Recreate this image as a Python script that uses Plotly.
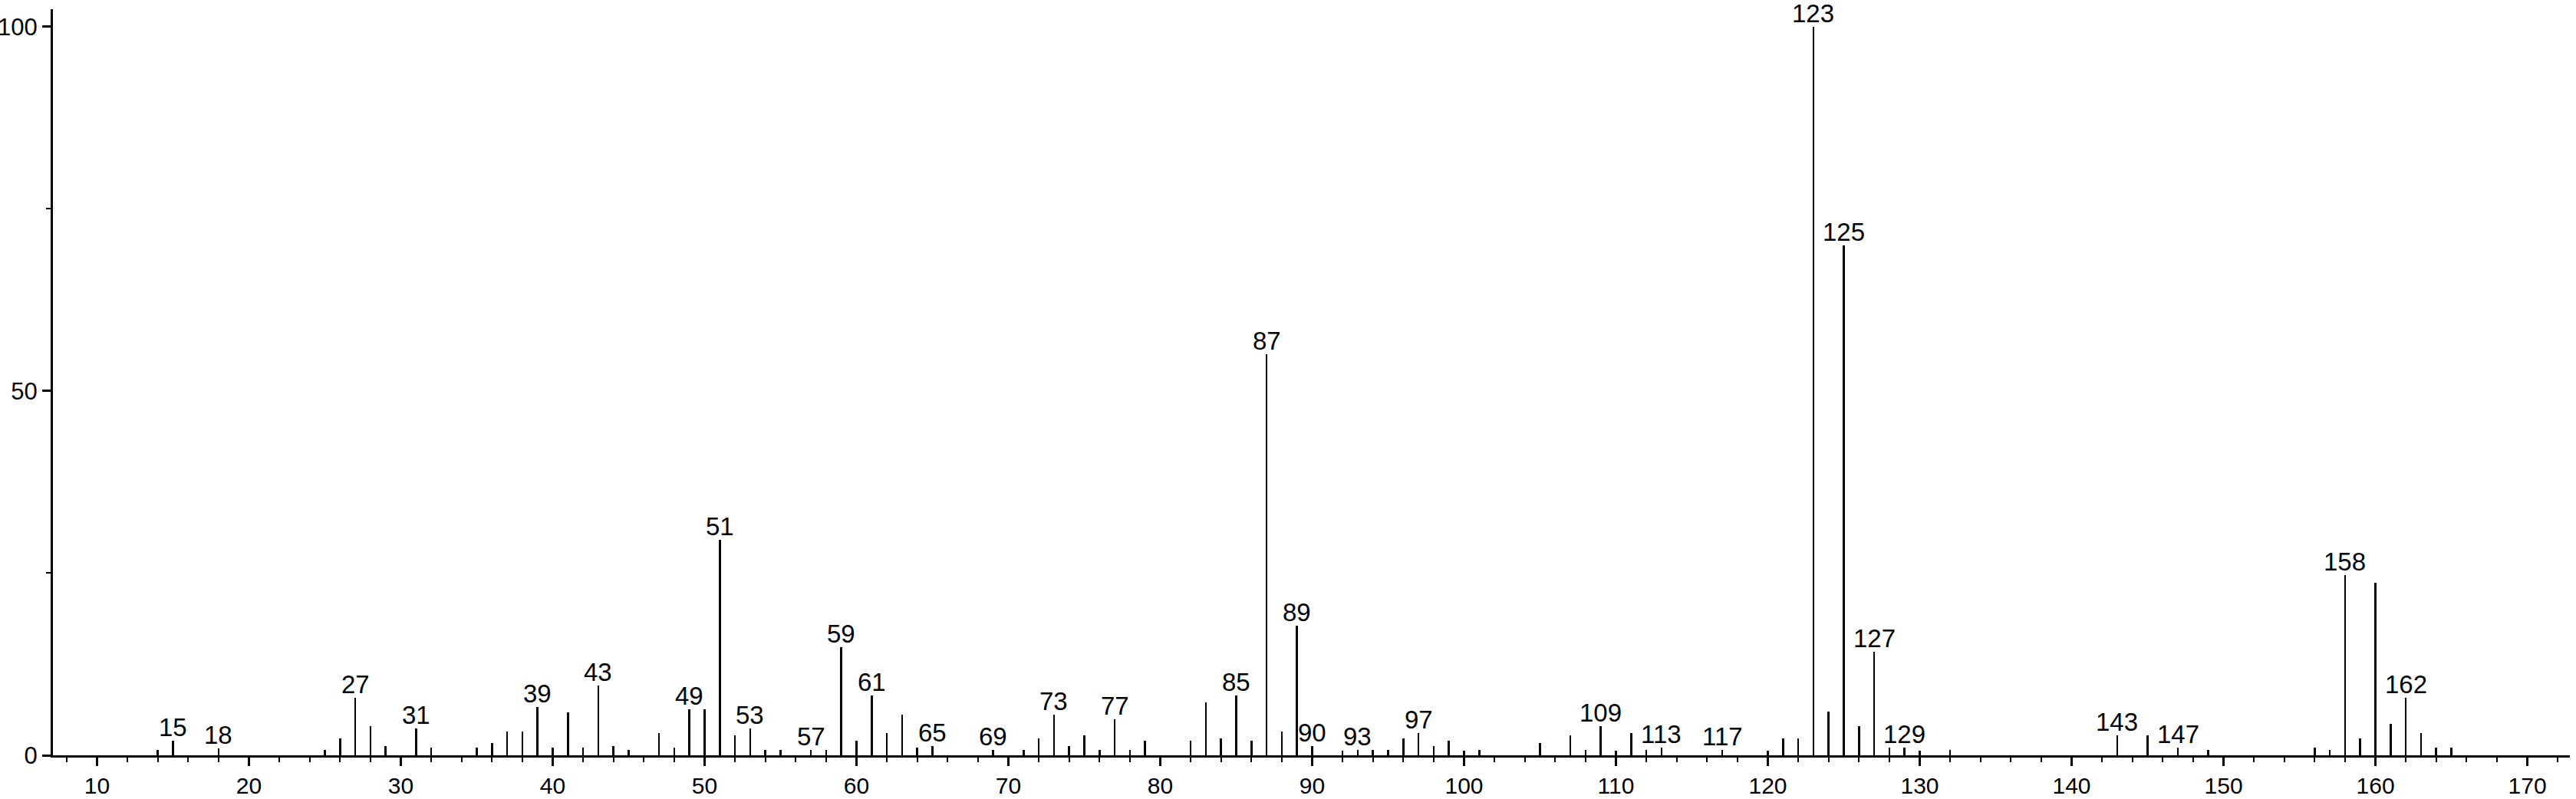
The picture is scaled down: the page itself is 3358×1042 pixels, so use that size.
import plotly.graph_objects as go

# m/z values and relative intensities
mz = [14, 15, 18, 25, 26, 27, 28, 29, 31, 32, 35, 36, 37, 38, 39, 40, 41, 42, 43, 44, 45,
      47, 48, 49, 50, 51, 52, 53, 54, 55, 57, 58, 59, 60, 61, 62, 63, 64, 65, 69, 71, 72,
      73, 74, 75, 76, 77, 78, 79, 82, 83, 84, 85, 86, 87, 88, 89, 90, 92, 93, 94, 95, 96,
      97, 98, 99, 100, 101, 105, 107, 108, 109, 110, 111, 112, 113, 117, 120, 121, 122,
      123, 124, 125, 126, 127, 128, 129, 130, 132, 143, 145, 147, 149, 156, 157, 158,
      159, 160, 161, 162, 163, 164, 165]
intensity = [0.7, 2.0, 1.0, 0.7, 2.3, 7.9, 4.0, 1.3, 3.7, 1.05, 1.05, 1.7, 3.3, 3.3, 6.6,
             1.05, 5.9, 1.05, 9.6, 1.3, 0.7, 3.0, 1.05, 6.3, 6.3, 29.6, 2.7, 3.7, 0.7, 0.7,
             0.7, 0.7, 14.8, 2.0, 8.2, 3.0, 5.6, 1.05, 1.3, 0.7, 0.7, 2.3, 5.6, 1.3, 2.7,
             0.7, 4.9, 0.7, 2.0, 2.0, 7.3, 2.3, 8.2, 2.0, 55.0, 3.3, 17.8, 1.3, 0.6, 0.7,
             0.7, 0.7, 2.3, 3.0, 1.3, 2.0, 0.6, 0.7, 1.7, 2.7, 0.7, 4.0, 0.6, 3.0, 0.7, 1.05,
             0.7, 0.6, 2.3, 2.3, 100.0, 6.0, 70.0, 4.0, 14.2, 1.05, 1.05, 0.6, 0.7, 2.7, 2.7,
             1.05, 0.7, 1.05, 0.7, 24.7, 2.3, 23.7, 4.3, 7.9, 3.0, 1.05, 1.05]

# peaks that carry an m/z label
labeled = [15, 18, 27, 31, 39, 43, 49, 51, 53, 57, 59, 61, 65, 69, 73, 77, 85, 87, 89, 90,
           93, 97, 109, 113, 117, 123, 125, 127, 129, 143, 147, 158, 162]

x_ticks = list(range(10, 171, 10))
y_ticks = [0, 50, 100]

FONT = "Liberation Sans, Arial, sans-serif"

fig = go.Figure()
fig.add_trace(go.Bar(x=mz, y=intensity, width=0.13,
                     marker=dict(color="black", line=dict(width=0))))

# m/z labels over the peaks
for m in labeled:
    fig.add_annotation(x=m, y=intensity[mz.index(m)], text=str(m),
                       showarrow=False, xanchor="center", yanchor="bottom",
                       yshift=-3, borderpad=1,
                       font=dict(size=33, color="black", family=FONT))

fig.update_layout(
    width=3358, height=1042,
    margin=dict(l=69, r=8, t=12, b=57),
    plot_bgcolor="white", paper_bgcolor="white",
    showlegend=False,
    font=dict(family=FONT, size=33, color="black"),
    bargap=0,
)
fig.update_xaxes(range=[7.1, 172.8], tickvals=x_ticks, showline=True, linewidth=3,
                 linecolor="black", ticks="outside", ticklen=11, tickwidth=3,
                 tickcolor="black", showgrid=False, zeroline=False,
                 ticklabelstandoff=0, automargin=False, tickfont=dict(size=30),
                 minor=dict(dtick=2, tick0=0, ticks="outside", ticklen=6,
                            tickwidth=2, tickcolor="black"))
fig.update_yaxes(range=[0, 102.4], tickvals=y_ticks, showline=True, linewidth=3,
                 linecolor="black", ticks="outside", ticklen=11, tickwidth=3,
                 tickcolor="black", showgrid=False, zeroline=False,
                 automargin=False, tickfont=dict(size=31),
                 minor=dict(dtick=25, tick0=0, ticks="outside", ticklen=6,
                            tickwidth=2, tickcolor="black"))

# drop the browser's default body margin so the figure sits at the page corner
fig.write_html("out.html", config={"displayModeBar": False},
               post_script="document.body.style.margin='0';")
